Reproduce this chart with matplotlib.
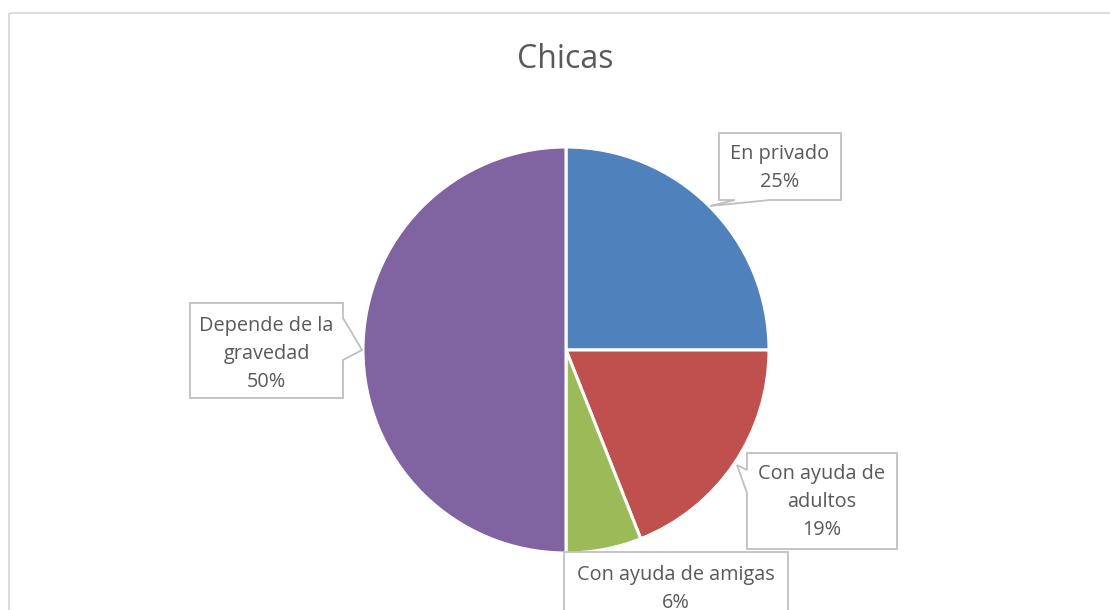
import matplotlib
matplotlib.use("Agg")
import matplotlib.pyplot as plt
from matplotlib.path import Path
from matplotlib.patches import PathPatch

# ---- data ----
categories = ["En privado", "Con ayuda de adultos", "Con ayuda de amigas", "Depende de la gravedad"]
values = [25, 19, 6, 50]
display_labels = ["En privado", "Con ayuda de\nadultos", "Con ayuda de amigas", "Depende de la\ngravedad"]
colors = ["#4F81BD", "#C0504D", "#9BBB59", "#8064A2"]
title = "Chicas"

W, H = 1110, 610
fig = plt.figure(figsize=(W / 100, H / 100), dpi=100)
ax = fig.add_axes([0, 0, 1, 1])

cx, cy, r = 566, 350, 203
ax.pie(values, colors=colors, startangle=-90, counterclock=True,
       center=(cx, cy), radius=r,
       wedgeprops=dict(edgecolor="white", linewidth=2.2))
ax.set_xlim(0, W)
ax.set_ylim(H, 0)
ax.set_aspect("equal")
ax.axis("off")

# chart border
ax.plot([8.5, W], [13, 13], color="#D9D9D9", lw=1.3, solid_capstyle="butt")
ax.plot([8.5, 8.5], [13, H], color="#D9D9D9", lw=1.3, solid_capstyle="butt")

ax.text(565, 59, title, ha="center", va="center", fontsize=23,
        color="#595959", family="Open Sans")

# callout layout: box (x0, y0, x1, y1), pointer (edge, a, b, tip), text center y
boxes = [
    ((719, 133, 841, 200), ("bottom", 770, 735, (710, 206)), 168),
    ((747, 453, 897, 549), ("left", 493, 470, (737, 465)), 502),
    ((564, 552, 788, 640), None, 589),
    ((190, 303, 343, 398), ("right", 318, 360, (362, 350)), 354),
]

def callout_path(box, pointer):
    x0, y0, x1, y1 = box
    verts = [(x0, y0), (x1, y0)]
    if pointer and pointer[0] == "right":
        _, a, b, tip = pointer
        verts += [(x1, a), tip, (x1, b)]
    verts += [(x1, y1)]
    if pointer and pointer[0] == "bottom":
        _, a, b, tip = pointer
        verts += [(a, y1), tip, (b, y1)]
    verts += [(x0, y1)]
    if pointer and pointer[0] == "left":
        _, a, b, tip = pointer
        verts += [(x0, a), tip, (x0, b)]
    verts += [(x0, y0)]
    codes = [Path.MOVETO] + [Path.LINETO] * (len(verts) - 2) + [Path.CLOSEPOLY]
    return Path(verts, codes)

for (box, pointer, yc), lab, v in zip(boxes, display_labels, values):
    p = PathPatch(callout_path(box, pointer), facecolor="white",
                  edgecolor="#BFBFBF", lw=1.3, zorder=5)
    ax.add_patch(p)
    x0, y0, x1, y1 = box
    ax.text((x0 + x1) / 2, yc, f"{lab}\n{v}%", ha="center", va="center",
            fontsize=14.3, color="#595959", family="Open Sans",
            linespacing=1.52, zorder=6)

fig.savefig("out.png", dpi=100)
